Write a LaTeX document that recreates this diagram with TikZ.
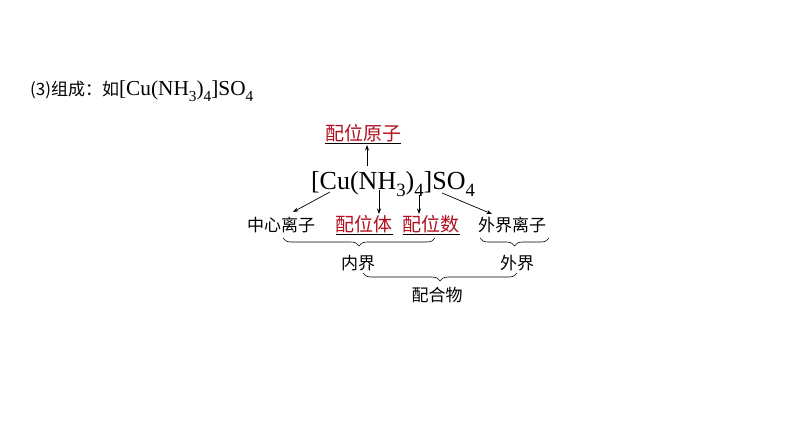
\documentclass[tikz,border=0pt]{standalone}
\usepackage{fontspec}
\setmainfont{Liberation Serif}
\newfontfamily\cjk{Noto Sans CJK SC}
\usetikzlibrary{arrows.meta,decorations.pathreplacing}
\definecolor{hong}{RGB}{176,16,32}
\newcommand{\hongzi}[1]{\underline{\textcolor{hong}{#1}}}
\newcommand{\xb}[1]{\raisebox{-0.3em}{\scalebox{0.72}{#1}}}
\newcommand{\huaxue}{[Cu(NH\xb{3})\xb{4}]SO\xb{4}}
\tikzset{
  lab/.style={font=\cjk\fontsize{17}{20}\selectfont, inner sep=1pt},
  key/.style={font=\cjk\fontsize{19}{22}\selectfont, inner sep=1pt},
  arr/.style={-{Stealth[length=5.5pt,width=4pt]}, line width=0.7pt},
  brc/.style={decorate, decoration={brace, mirror, amplitude=8pt}, line width=0.6pt},
}
\begin{document}
\begin{tikzpicture}[x=1pt,y=-1pt]
		\useasboundingbox[fill=white] (0,0) rectangle (794,447);
		\node[anchor=west, inner sep=0, font=\fontsize{17}{20}\selectfont] (title) at (30,91)
			{{\cjk (3)组成：如}{\fontsize{21.3}{24}\selectfont\huaxue}};

		% 化学式
		\node[font=\fontsize{26}{30}\selectfont, inner sep=0] (cu) at (393,184) {\huaxue};
		\node[key] (yzyz) at (363,134) {\hongzi{配位原子}};

		% 各部分
		\node[lab] (zxlz) at (281,225) {中心离子};
		\node[key] (pwt) at (364,225) {\hongzi{配位体}};
		\node[key] (pws) at (431,225) {\hongzi{配位数}};
		\node[lab] (wjlz) at (512,225) {外界离子};
		\node[lab] (nj) at (358,263) {内界};
		\node[lab] (wj) at (517,263) {外界};
		\node[lab] (phw) at (437,295) {配合物};

		\coordinate (A) at (367,166);
		\coordinate (B) at (330,192);
		\coordinate (C) at (379,190);
		\coordinate (D) at (419,195);
		\coordinate (E) at (442,193);
		\coordinate (F) at (293,212);
		\coordinate (G) at (492,214);

		\draw[arr] (A) -- (A |- yzyz.south);
		\draw[arr] (B) -- (F);
		\draw[arr] (C) -- (C |- pwt.north);
		\draw[arr] (D) -- (D |- pws.north);
		\draw[arr] (E) -- (G);

		\draw[brc] (283,238) -- (435,238);
		\draw[brc] (480,238) -- (549,238);
		\draw[brc] (363,273) -- (517,273);
	\end{tikzpicture}
\end{document}
